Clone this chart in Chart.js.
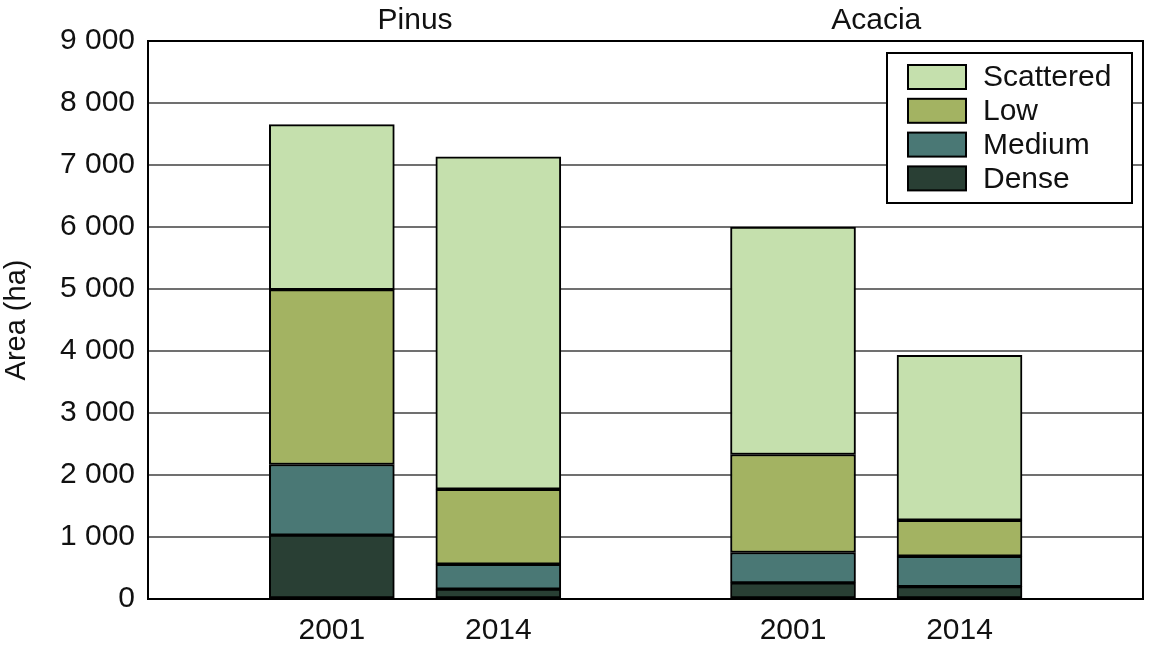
<!DOCTYPE html>
<html lang="en">
<head>
  <meta charset="utf-8" />
  <title>Area by density class</title>
  <script src="https://cdn.jsdelivr.net/npm/chart.js@4.4.0/dist/chart.umd.min.js"></script>
  <style>
    html, body { margin: 0; padding: 0; background: #fff; }
    #wrap { width: 1150px; height: 646px; }
  </style>
</head>
<body>
  <div id="wrap"><canvas id="chart" width="1150" height="646"></canvas></div>
  <script>
    // data (ha)
    const groups = ['Pinus', 'Acacia'];
    const years = ['2001', '2014'];
    const dense = [1030, 160, 260, 200];
    const medium = [1140, 400, 490, 490];
    const low = [2820, 1210, 1580, 580];
    const scattered = [2660, 5360, 3670, 2660];
    const yTicks = [0, 1000, 2000, 3000, 4000, 5000, 6000, 7000, 8000, 9000];

    const FONT = "'Liberation Sans', Arial, sans-serif";
    const groupStep = 2.77; // gap between Pinus and Acacia bars, in bar slots

    // x position of each bar: group offset + year index
    const xpos = [];
    groups.forEach((g, gi) => years.forEach((y, yi) => xpos.push(gi * groupStep + yi)));
    const labels = [];
    groups.forEach(() => years.forEach(y => labels.push(y)));

    function pts(arr) {
      return arr.map((v, i) => ({ x: xpos[i], y: v }));
    }

    const series = [
      { label: 'Dense', data: dense, color: '#293f34' },
      { label: 'Medium', data: medium, color: '#4a7875' },
      { label: 'Low', data: low, color: '#a3b362' },
      { label: 'Scattered', data: scattered, color: '#c5e0ad' }
    ];

    function fmt(v) {
      return String(v).replace(/\B(?=(\d{3})+(?!\d))/g, ' ');
    }

    // frame, group titles and the boxed legend
    const extras = {
      id: 'extras',
      afterDatasetsDraw(chart) {
        const ctx = chart.ctx;
        const a = chart.chartArea;
        const xs = chart.scales.x;
        ctx.save();
        ctx.strokeStyle = '#000';
        ctx.lineWidth = 2;
        ctx.strokeRect(a.left, a.top, a.right - a.left, a.bottom - a.top);

        ctx.fillStyle = '#111';
        ctx.font = '30px ' + FONT;
        ctx.textAlign = 'center';
        ctx.textBaseline = 'alphabetic';
        groups.forEach((g, gi) => {
          const cx = xs.getPixelForValue(gi * groupStep + (years.length - 1) / 2);
          ctx.fillText(g, cx, 29);
        });

        // legend
        const lx = 887, ly = 53, lw = 245, lh = 150;
        ctx.fillStyle = '#fff';
        ctx.fillRect(lx, ly, lw, lh);
        ctx.strokeRect(lx, ly, lw, lh);
        const order = series.slice().reverse();
        ctx.textAlign = 'left';
        ctx.textBaseline = 'middle';
        order.forEach((s, i) => {
          const sy = 65 + i * 33.8;
          ctx.fillStyle = s.color;
          ctx.fillRect(908, sy, 58, 24);
          ctx.strokeRect(908, sy, 58, 24);
          ctx.fillStyle = '#111';
          ctx.fillText(s.label, 983, sy + 13);
        });
        ctx.restore();
      }
    };

    new Chart(document.getElementById('chart'), {
      type: 'bar',
      data: {
        datasets: series.map(s => ({
          label: s.label,
          data: pts(s.data),
          backgroundColor: s.color,
          borderColor: '#000',
          borderWidth: 2,
          borderSkipped: false,
          barThickness: 125
        }))
      },
      options: {
        responsive: false,
        animation: false,
        layout: { padding: { top: 41, right: 7, left: 0, bottom: 0 } },
        plugins: {
          legend: { display: false },
          tooltip: { enabled: false }
        },
        scales: {
          x: {
            type: 'linear',
            stacked: true,
            offset: false,
            min: -1.104,
            max: groupStep + 1 + 1.102,
            afterBuildTicks(scale) {
              scale.ticks = xpos.map(v => ({ value: v }));
            },
            afterFit(scale) { scale.height = 47; },
            grid: { display: false, drawTicks: false },
            border: { display: false },
            ticks: {
              autoSkip: false,
              maxRotation: 0,
              padding: 14,
              color: '#111',
              font: { family: FONT, size: 30 },
              callback: (v, i) => labels[i]
            }
          },
          y: {
            stacked: true,
            min: 0,
            max: 9000,
            afterBuildTicks(scale) {
              scale.ticks = yTicks.map(v => ({ value: v }));
            },
            afterFit(scale) { scale.width = 148; },
            grid: { color: '#707070', lineWidth: 2, drawTicks: false },
            border: { color: '#000', width: 2 },
            ticks: {
              padding: 13,
              color: '#111',
              font: { family: FONT, size: 30 },
              callback: v => fmt(v)
            },
            title: {
              display: true,
              text: 'Area (ha)',
              color: '#111',
              font: { family: FONT, size: 29 },
              padding: { top: 0, bottom: 0 }
            }
          }
        }
      },
      plugins: [extras]
    });
  </script>
</body>
</html>
